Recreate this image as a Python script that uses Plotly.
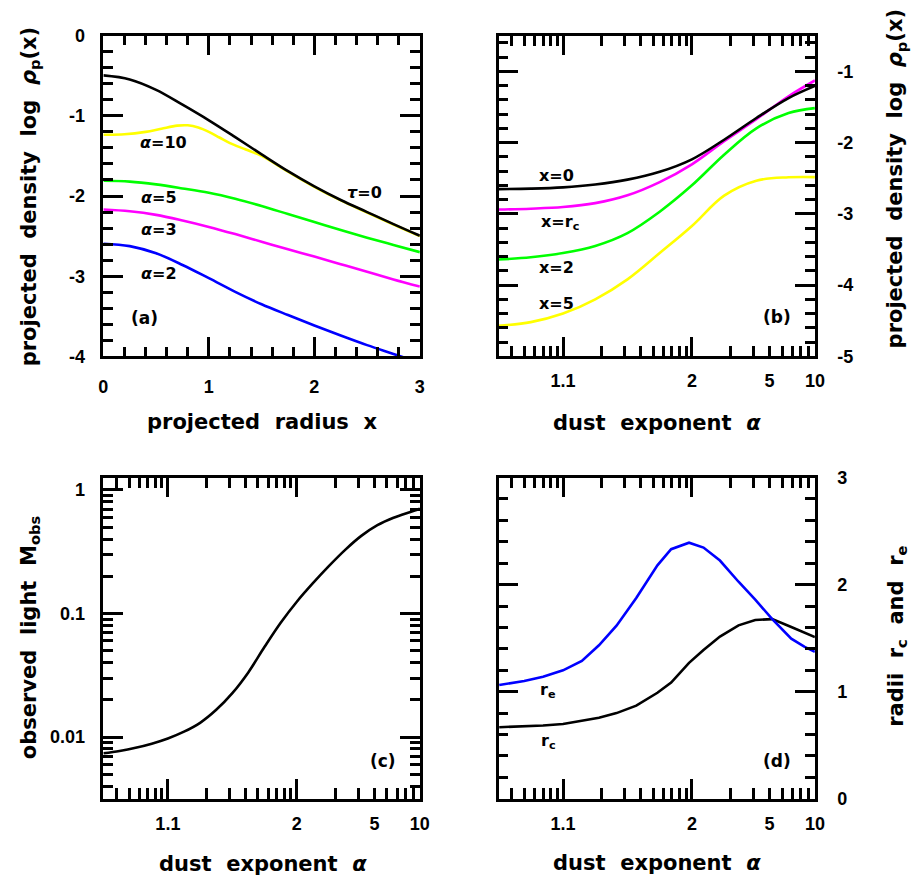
import numpy as np
import plotly.graph_objects as go

# ---------------- data ----------------
# panel (a): projected density vs projected radius
x_a = [0, 0.25, 0.5, 0.75, 1.0, 1.25, 1.5, 1.75, 2.0, 2.25, 2.5, 2.75, 3.0]
a_tau0 = [-0.495, -0.545, -0.675, -0.86, -1.055, -1.265, -1.48, -1.69, -1.88, -2.05, -2.20, -2.35, -2.495]
x_a10 = [0, 0.2, 0.4, 0.55, 0.7, 0.8, 0.9, 1.0, 1.1, 1.2, 1.35, 1.5, 1.75, 2.0, 2.25, 2.5, 2.75, 3.0]
a_alpha10 = [-1.235, -1.23, -1.20, -1.16, -1.122, -1.118, -1.145, -1.20, -1.27, -1.34, -1.42, -1.50,
             -1.695, -1.885, -2.055, -2.205, -2.355, -2.50]
a_alpha5 = [-1.81, -1.82, -1.855, -1.905, -1.96, -2.035, -2.125, -2.225, -2.325, -2.425, -2.52, -2.61, -2.70]
a_alpha3 = [-2.168, -2.19, -2.235, -2.305, -2.385, -2.475, -2.57, -2.665, -2.755, -2.85, -2.945, -3.04, -3.13]
a_alpha2 = [-2.595, -2.625, -2.715, -2.86, -3.025, -3.195, -3.35, -3.485, -3.615, -3.74, -3.86, -3.97, -4.08]

# panel (b): projected density vs dust exponent
alpha_b = [1.0316, 1.0562, 1.1, 1.1778, 1.3162, 1.5623, 2.0, 2.7783, 4.1623, 6.6234, 10.0]
b_x0 = [-2.653, -2.646, -2.628, -2.588, -2.52, -2.41, -2.235, -1.96, -1.655, -1.375, -1.205]
b_xrc = [-2.94, -2.928, -2.905, -2.85, -2.74, -2.555, -2.305, -1.98, -1.672, -1.35, -1.128]
b_x2 = [-3.64, -3.61, -3.55, -3.45, -3.27, -2.97, -2.60, -2.17, -1.80, -1.585, -1.516]
b_x5 = [-4.571, -4.52, -4.40, -4.20, -3.92, -3.55, -3.17, -2.745, -2.535, -2.487, -2.484]

# panel (c): observed light vs dust exponent
alpha_c = [1.0316, 1.0422, 1.0562, 1.075, 1.1, 1.1334, 1.1778, 1.2371, 1.3162, 1.4217, 1.5623,
           1.7499, 2.0, 2.3335, 2.7783, 3.3714, 4.1623, 5.217, 6.6234, 8.4989, 10.0]
M_obs = [0.00738, 0.00771, 0.00818, 0.00883, 0.00973, 0.01104, 0.01303, 0.0166, 0.02265, 0.0335,
         0.0537, 0.0841, 0.1245, 0.1758, 0.2427, 0.3273, 0.4246, 0.5188, 0.5957, 0.6607, 0.7031]

# panel (d): radii vs dust exponent
alpha_d = [1.032, 1.05, 1.07, 1.10, 1.14, 1.19, 1.26, 1.37, 1.54, 1.69, 1.95, 2.23, 2.65, 3.3, 4.1,
           5.2, 6.9, 8.5, 10.0]
r_e = [1.063, 1.10, 1.14, 1.20, 1.288, 1.434, 1.617, 1.875, 2.18, 2.331, 2.392, 2.346, 2.225, 2.027,
       1.86, 1.678, 1.495, 1.419, 1.373]
r_c = [0.668, 0.675, 0.685, 0.699, 0.726, 0.757, 0.80, 0.87, 0.99, 1.085, 1.27, 1.39, 1.515, 1.62,
       1.67, 1.678, 1.605, 1.555, 1.51]

# tick labels
a_xticks = [0, 1, 2, 3]
a_yticks = [-4, -3, -2, -1, 0]
b_yticks = [-5, -4, -3, -2, -1]
alpha_ticklabels = ["1.1", "2", "5", "10"]
alpha_tickvalues = [1.1, 2, 5, 10]
c_yticks = [0.01, 0.1, 1]
c_yticklabels = ["0.01", "0.1", "1"]
d_yticks = [0, 1, 2, 3]

# ---------------- styling ----------------
TFONT = "DejaVu Sans"
KFONT = "Liberation Sans"
BLACK, YELLOW, GREEN, MAGENTA, BLUE = "#000000", "#ffff00", "#00ff00", "#ff00ff", "#0000ff"
LW = 2.6
W, H = 922, 891

def px_x(p):
    return p / W

def px_y(p):
    return 1 - p / H

dom_x_left = [px_x(100), px_x(421.7)]
dom_x_right = [px_x(501.7), px_x(823.3)]
dom_y_top = [px_y(354.3), px_y(26.3)]
dom_y_bot = [px_y(806.9), px_y(478.3)]

tickfont = dict(family=KFONT, size=18, color="black", weight="bold")

def base_axis(**kw):
    d = dict(showline=True, linecolor="black", linewidth=2.5, mirror="ticks",
             ticks="inside", ticklen=20, tickwidth=2.5, tickcolor="black",
             showgrid=False, zeroline=False, tickfont=tickfont, fixedrange=True)
    d.update(kw)
    return d

def minor(vals, ln=10):
    return dict(ticks="inside", ticklen=ln, tickwidth=2.5, tickcolor="black",
                tickmode="array", tickvals=vals, showgrid=False)

def lin_minor(lo, hi, step=0.2):
    v = np.round(np.arange(lo, hi + 1e-9, step), 3)
    return [float(t) for t in v if abs(t - round(t)) > 1e-6]

log_minor_x = [0.04, 0.05, 0.06, 0.07, 0.08, 0.09, 0.2, 0.3, 0.4, 0.5, 0.6, 0.7, 0.8, 0.9,
               2, 3, 4, 5, 6, 7, 8]
log_minor_c = [0.004, 0.005, 0.006, 0.007, 0.008, 0.009, 0.02, 0.03, 0.04, 0.05, 0.06, 0.07, 0.08,
               0.09, 0.2, 0.3, 0.4, 0.5, 0.6, 0.7, 0.8, 0.9]
xrange_log = [np.log10(1.0316 - 1), np.log10(9)]

am1_b = [a - 1 for a in alpha_b]
am1_c = [a - 1 for a in alpha_c]
am1_d = [a - 1 for a in alpha_d]
label_am1 = [a - 1 for a in alpha_tickvalues]

fig = go.Figure()

def line(x, y, color, xa, ya, shape="spline"):
    fig.add_trace(go.Scatter(x=x, y=y, mode="lines", xaxis=xa, yaxis=ya, showlegend=False,
                             hoverinfo="skip",
                             line=dict(color=color, width=LW, shape=shape, smoothing=1.0)))

# panel a
line(x_a, a_alpha2, BLUE, "x", "y")
line(x_a, a_alpha3, MAGENTA, "x", "y")
line(x_a, a_alpha5, GREEN, "x", "y")
line(x_a10, a_alpha10, YELLOW, "x", "y")
line(x_a, a_tau0, BLACK, "x", "y")
# panel b
line(am1_b, b_x5, YELLOW, "x2", "y2")
line(am1_b, b_x2, GREEN, "x2", "y2")
line(am1_b, b_xrc, MAGENTA, "x2", "y2")
line(am1_b, b_x0, BLACK, "x2", "y2")
# panel c
line(am1_c, M_obs, BLACK, "x3", "y3")
# panel d
line(am1_d, r_c, BLACK, "x4", "y4", shape="linear")
line(am1_d, r_e, BLUE, "x4", "y4", shape="linear")
# invisible traces to register tick-label overlay axes
for xa, ya in [("x5", "y2"), ("x6", "y3"), ("x7", "y4")]:
    fig.add_trace(go.Scatter(x=[None], y=[None], xaxis=xa, yaxis=ya, showlegend=False, hoverinfo="skip"))

XSTAND = 12
YSTAND = 12

layout = dict(
    width=W, height=H, margin=dict(l=0, r=0, t=0, b=0),
    paper_bgcolor="white", plot_bgcolor="white", showlegend=False,
    xaxis=base_axis(domain=dom_x_left, anchor="y", range=[0, 3], tickmode="array",
                    tickvals=a_xticks, ticktext=[str(v) for v in a_xticks],
                    minor=minor(lin_minor(0, 3)), ticklabelstandoff=XSTAND),
    yaxis=base_axis(domain=dom_y_top, anchor="x", range=[-4, 0], tickmode="array",
                    tickvals=a_yticks, ticktext=[str(v) for v in a_yticks],
                    minor=minor(lin_minor(-4, 0)), ticklabelstandoff=YSTAND),
    xaxis2=base_axis(domain=dom_x_right, anchor="y2", type="log", range=xrange_log,
                     tickmode="array", tickvals=[0.1, 1], showticklabels=False,
                     minor=minor(log_minor_x, 11)),
    yaxis2=base_axis(domain=dom_y_top, anchor="x2", side="right", range=[-5, -0.5],
                     tickmode="array", tickvals=b_yticks, ticktext=[str(v) for v in b_yticks],
                     minor=minor(lin_minor(-5, -0.5)), ticklabelstandoff=YSTAND + 4),
    xaxis3=base_axis(domain=dom_x_left, anchor="y3", type="log", range=xrange_log,
                     tickmode="array", tickvals=[0.1, 1], showticklabels=False,
                     minor=minor(log_minor_x, 11)),
    yaxis3=base_axis(domain=dom_y_bot, anchor="x3", type="log", range=[-2.5, 0.1],
                     tickmode="array", tickvals=c_yticks, ticktext=c_yticklabels,
                     minor=minor(log_minor_c), ticklabelstandoff=YSTAND),
    xaxis4=base_axis(domain=dom_x_right, anchor="y4", type="log", range=xrange_log,
                     tickmode="array", tickvals=[0.1, 1], showticklabels=False,
                     minor=minor(log_minor_x, 11)),
    yaxis4=base_axis(domain=dom_y_bot, anchor="x4", side="right", range=[0, 3],
                     tickmode="array", tickvals=d_yticks, ticktext=[str(v) for v in d_yticks],
                     minor=minor(lin_minor(0, 3)), ticklabelstandoff=YSTAND + 4),
)
for name, base, ya in [("xaxis5", "x2", "y2"), ("xaxis6", "x3", "y3"), ("xaxis7", "x4", "y4")]:
    layout[name] = dict(overlaying=base, anchor=ya, side="bottom", type="log", range=xrange_log,
                        tickmode="array", tickvals=label_am1, ticktext=alpha_ticklabels,
                        ticks="", showline=False, showgrid=False, zeroline=False,
                        tickfont=tickfont, ticklabelstandoff=XSTAND, fixedrange=True)
fig.update_layout(**layout)

titlefont = dict(family=TFONT, size=21, color="black", weight="bold")
labfont = dict(family=TFONT, size=16, color="black", weight="bold")
parfont = dict(family=TFONT, size=17, color="black", weight="bold")
S = "\u00a0\u00a0"

def ptxt(text, xp, yp, angle=0):
    fig.add_annotation(text=text, xref="paper", yref="paper", x=px_x(xp), y=px_y(yp),
                       showarrow=False, textangle=angle, font=titlefont,
                       xanchor="center", yanchor="middle")

ptxt(f"projected{S}radius{S}x", 261, 421)
ptxt(f"dust{S}exponent{S}<i>α</i>", 663, 422)
ptxt(f"dust{S}exponent{S}<i>α</i>", 262, 874)
ptxt(f"dust{S}exponent{S}<i>α</i>", 663, 873)
ptxt(f"projected{S}density{S}log{S}<i>ρ</i><sub>p</sub>(x)", 25, 191, -90)
ptxt(f"projected{S}density{S}log{S}<i>ρ</i><sub>p</sub>(x)", 906, 172, -90)
ptxt(f"observed{S}light{S}M<sub>obs</sub>", 25, 642, -90)
ptxt(f"radii{S}r<sub>c</sub>{S}and{S}r<sub>e</sub>", 906, 641, -90)

def dtxt(text, x, y, xr, yr, font=labfont):
    fig.add_annotation(text=text, xref=xr, yref=yr, x=x, y=y, showarrow=False, font=font,
                       xanchor="center", yanchor="middle")

dtxt("<i>α</i>=10", 0.566, -1.328, "x", "y")
dtxt("<i>τ</i>=0", 2.472, -1.958, "x", "y")
dtxt("<i>α</i>=5", 0.529, -2.019, "x", "y")
dtxt("<i>α</i>=3", 0.529, -2.412, "x", "y")
dtxt("<i>α</i>=2", 0.529, -2.964, "x", "y")
dtxt("(a)", 0.389, -3.521, "x", "y", parfont)
dtxt("x=0", -1.051, -2.462, "x2", "y2")
dtxt("x=r<sub>c</sub>", -1.026, -3.123, "x2", "y2")
dtxt("x=2", -1.051, -3.753, "x2", "y2")
dtxt("x=5", -1.051, -4.256, "x2", "y2")
dtxt("(b)", 0.659, -4.448, "x2", "y2", parfont)
dtxt("(c)", 0.665, -2.193, "x3", "y3", parfont)
dtxt("r<sub>e</sub>", -1.114, 1.008, "x4", "y4")
dtxt("r<sub>c</sub>", -1.114, 0.538, "x4", "y4")
dtxt("(d)", 0.659, 0.356, "x4", "y4", parfont)

fig.write_html("out.html")
